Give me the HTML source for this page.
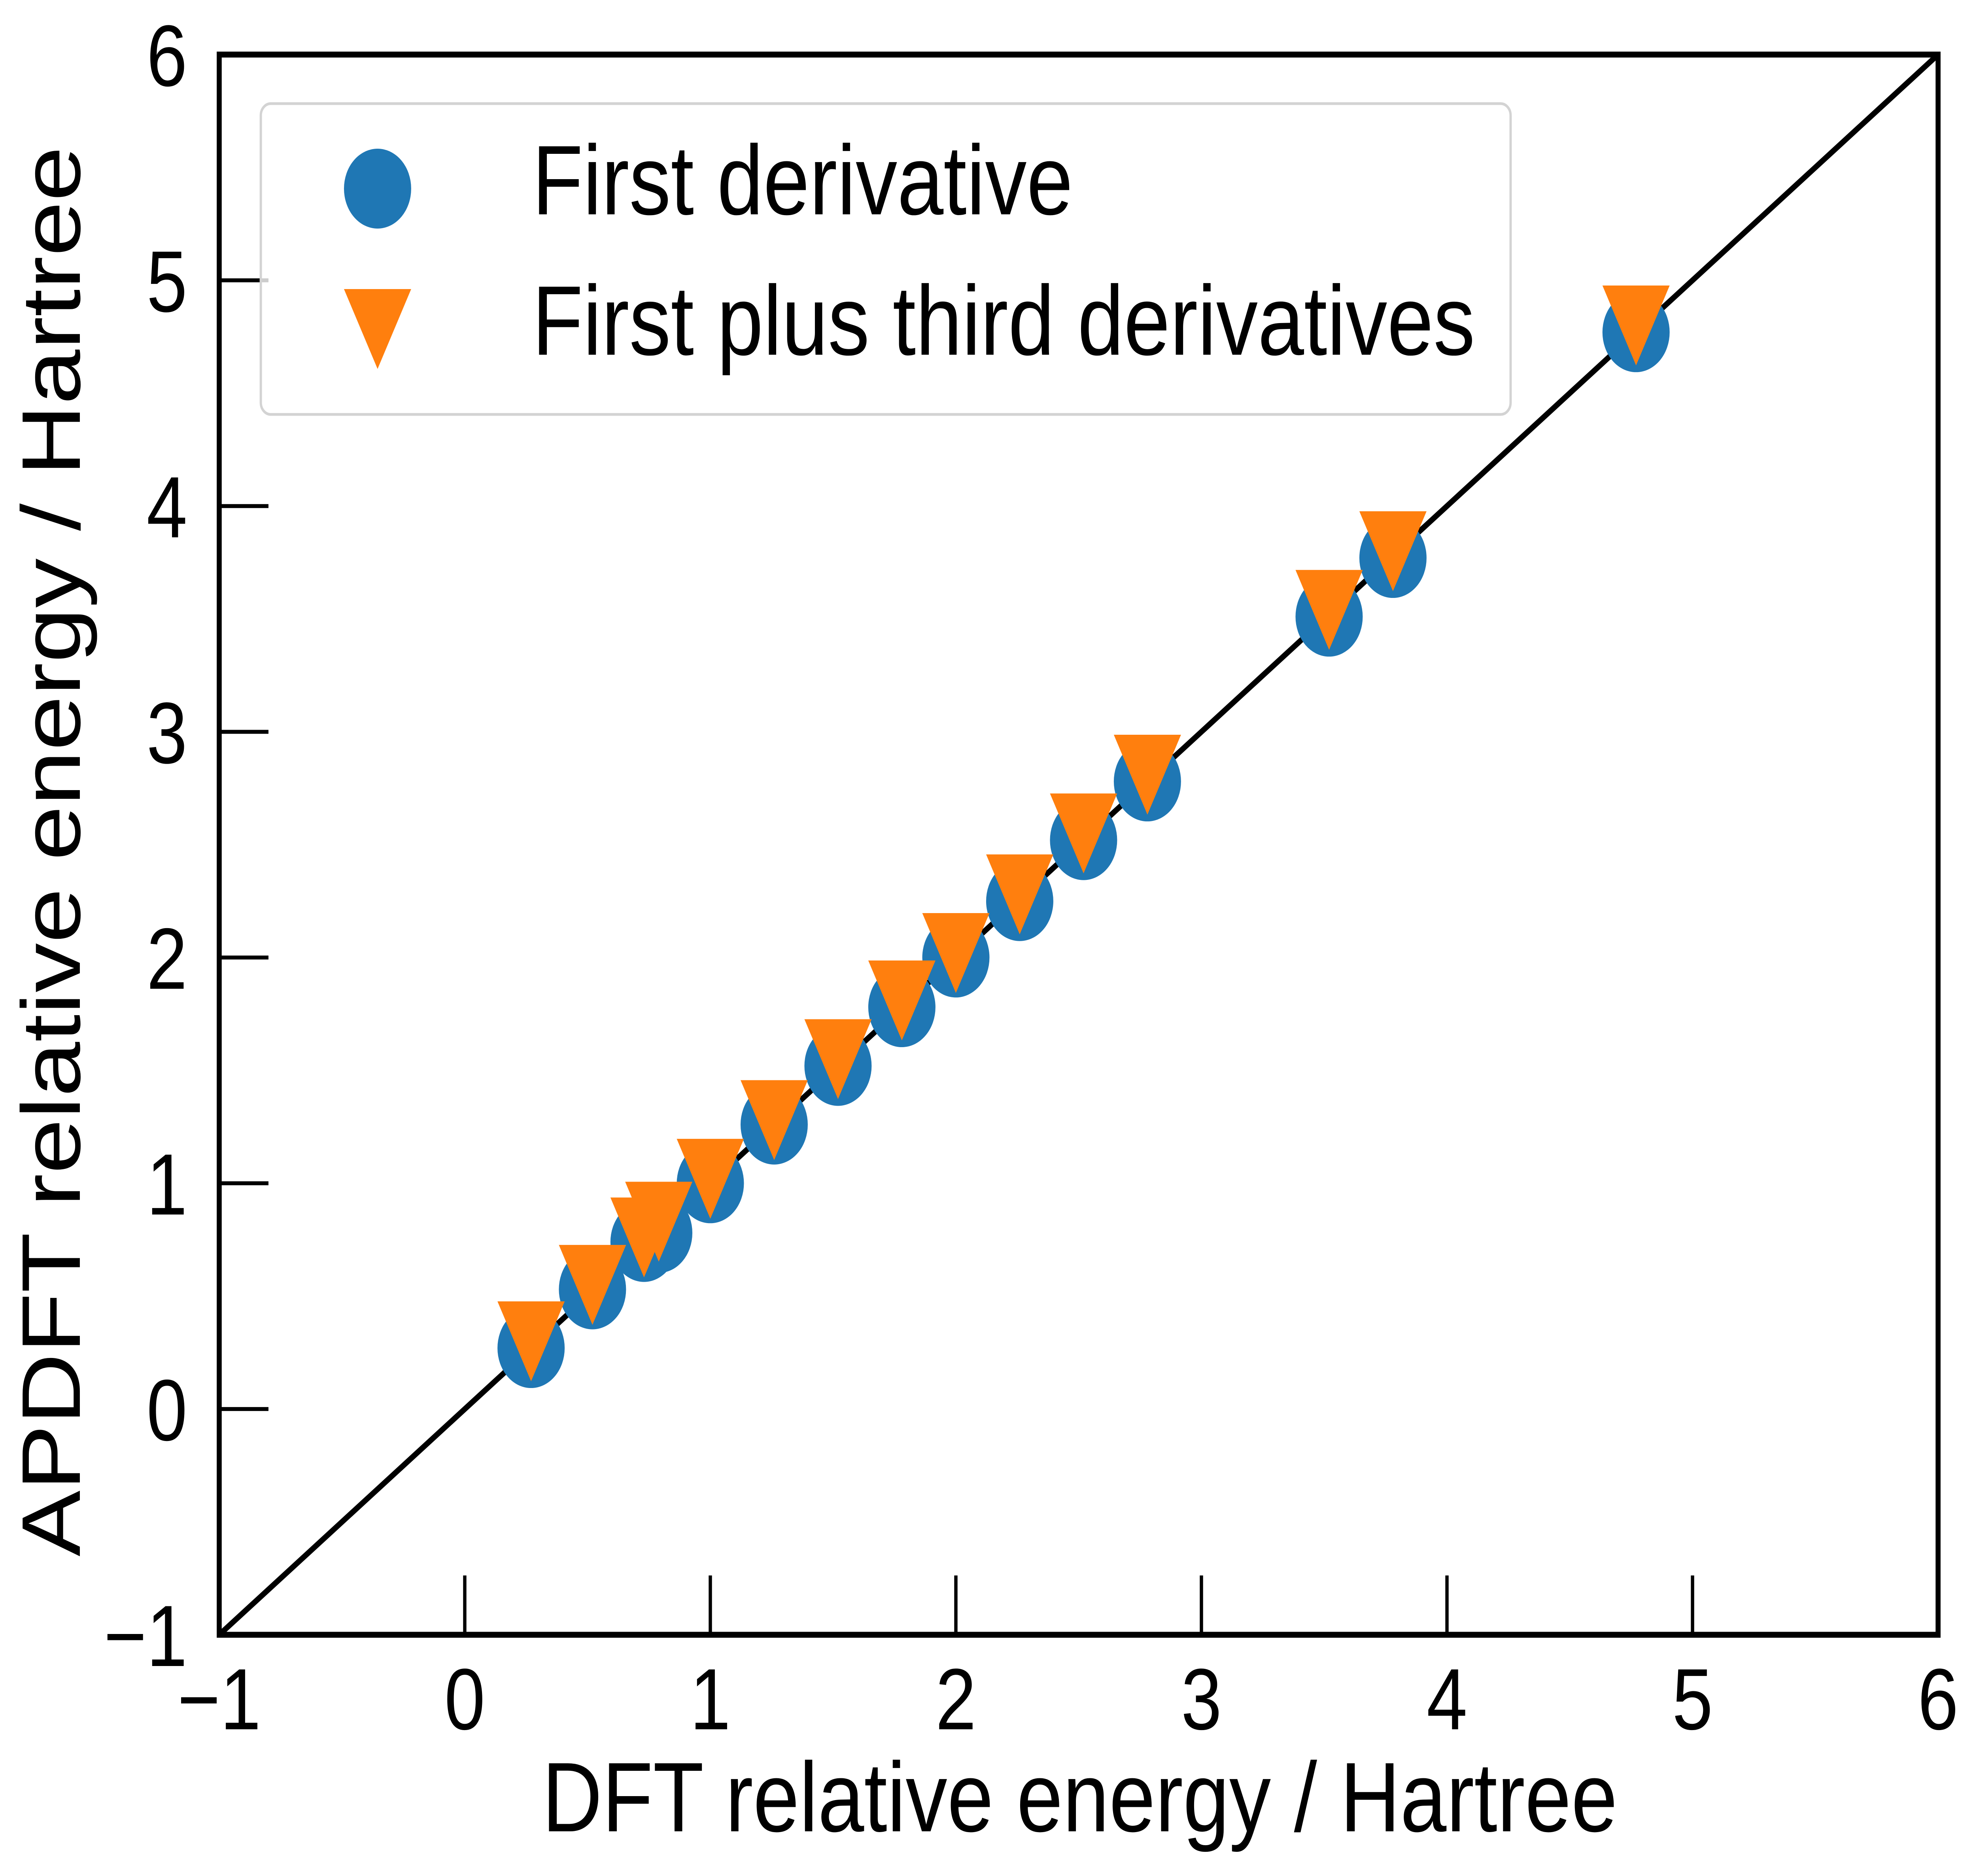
<!DOCTYPE html>
<html><head><meta charset="utf-8"><style>html,body{margin:0;padding:0;background:#fff;overflow:hidden;width:100%;height:100%}svg{display:block;width:100vw;height:100vh}</style></head>
<body>
<svg id="chart" viewBox="0 0 5943 4744" preserveAspectRatio="none" xmlns="http://www.w3.org/2000/svg" font-family="Liberation Sans, Arial, sans-serif">
</svg>
<script>
const xTicks = [-1,0,1,2,3,4,5,6];
const yTicks = [-1,0,1,2,3,4,5,6];
const dftX = [0.27,0.52,0.73,0.79,1.0,1.26,1.52,1.78,2.0,2.26,2.52,2.78,3.52,3.78,4.77];
const firstDeriv = [0.27,0.53,0.74,0.78,1.0,1.26,1.52,1.78,2.0,2.25,2.52,2.78,3.51,3.77,4.77];
const firstThird = [0.30,0.55,0.76,0.83,1.02,1.28,1.55,1.81,2.02,2.28,2.55,2.81,3.54,3.80,4.80];

const NS="http://www.w3.org/2000/svg";
const svg=document.getElementById('chart');
const L=659,R=5826,T=138,B=4134;
const xs=v=>L+(v+1)/7*(R-L);
const ys=v=>B-(v+1)/7*(B-T);
function mk(tag,attrs,parent){const e=document.createElementNS(NS,tag);for(const k in attrs)e.setAttribute(k,attrs[k]);(parent||svg).appendChild(e);return e;}
function tri(cx,cy,r){return `${cx-r},${cy-r} ${cx+r},${cy-r} ${cx},${cy+r}`;}

let diag=mk('line',{x1:xs(-1),y1:ys(-1),x2:xs(6),y2:ys(6),stroke:'#000','stroke-width':15});



dftX.forEach((x,i)=>{
  const c=mk('circle',{cx:xs(x),cy:ys(firstDeriv[i]),r:101,fill:'#1f77b4'});
  
  
});
dftX.forEach((x,i)=>{
  const p=mk('polygon',{points:tri(xs(x),ys(firstThird[i]),101),fill:'#ff7f0e'});
  
  
});

xTicks.forEach(v=>{
  const t=mk('line',{x1:xs(v),y1:B,x2:xs(v),y2:B-150,stroke:'#000','stroke-width':10});
  
  
  const tx=mk('text',{x:xs(v),y:4373,'font-size':220,'text-anchor':'middle',fill:'#000'});
  tx.textContent=v<0?'\u2212'+Math.abs(v):String(v);
  
  
});
yTicks.forEach(v=>{
  const t=mk('line',{x1:L,y1:ys(v),x2:L+148,y2:ys(v),stroke:'#000','stroke-width':10});
  
  
  const tx=mk('text',{x:563,y:ys(v)+79,'font-size':220,'text-anchor':'end',fill:'#000'});
  tx.textContent=v<0?'\u2212'+Math.abs(v):String(v);
  
  
});

let fr=mk('rect',{x:L,y:T,width:R-L,height:B-T,fill:'none',stroke:'#000','stroke-width':15});



let xt=mk('text',{x:3246,y:4631,'font-size':250,'text-anchor':'middle',fill:'#000'});
xt.textContent='DFT relative energy / Hartree';


let yt=mk('text',{x:0,y:0,'font-size':250,'text-anchor':'middle',fill:'#000',transform:'translate(240,2153) rotate(-90)'});
yt.textContent='APDFT relative energy / Hartree';



let lg=mk('g',{});


let lb=mk('rect',{x:784,y:262,width:3757,height:786,rx:30,fill:'#fff','fill-opacity':0.8,stroke:'#d3d3d3','stroke-width':7},lg);


let lc=mk('circle',{cx:1135,cy:477,r:101,fill:'#1f77b4'},lg);


let lt=mk('polygon',{points:tri(1135,832,101),fill:'#ff7f0e'},lg);


let l1=mk('text',{x:1600,y:542,'font-size':250,fill:'#000'},lg);
l1.textContent='First derivative';


let l2=mk('text',{x:1600,y:897,'font-size':250,fill:'#000'},lg);
l2.textContent='First plus third derivatives';


</script>
</body></html>
